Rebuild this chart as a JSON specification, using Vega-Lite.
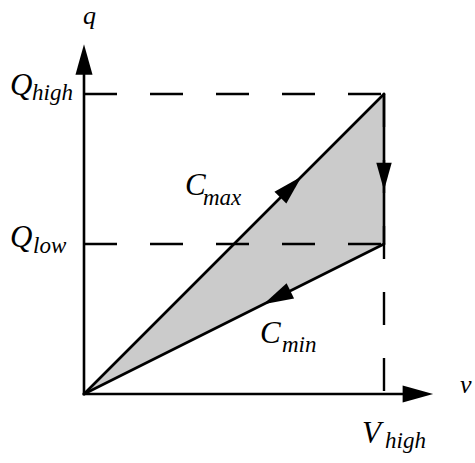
{
  "$schema": "https://vega.github.io/schema/vega-lite/v6.json",
  "width": 475,
  "height": 463,
  "autosize": {"type": "fit", "contains": "padding"},
  "padding": 0,
  "background": "white",
  "config": {"view": {"stroke": null}},
  "encoding": {
    "x": {"field": "v", "type": "quantitative", "axis": null,
          "scale": {"domain": [-0.28, 1.30333], "nice": false, "zero": false}},
    "y": {"field": "q", "type": "quantitative", "axis": null,
          "scale": {"domain": [-0.23, 1.31333], "nice": false, "zero": false}}
  },
  "layer": [
    {
      "description": "shaded cycle between C_max and C_min",
      "data": {"values": [
        {"v": 0, "q": 0, "q2": 0},
        {"v": 1, "q": 1, "q2": 0.5}
      ]},
      "mark": {"type": "area", "color": "#cbcbcb", "opacity": 1},
      "encoding": {"y2": {"field": "q2"}}
    },
    {
      "description": "dashed guides at Q_high, Q_low and V_high",
      "data": {"values": [
        {"v": 0, "q": 1, "v2": 1, "q2": 1},
        {"v": 0, "q": 0.5, "v2": 1, "q2": 0.5},
        {"v": 1, "q": 1, "v2": 1, "q2": 0}
      ]},
      "mark": {"type": "rule", "color": "black", "strokeWidth": 2.4, "strokeDash": [33, 33]},
      "encoding": {"x2": {"field": "v2"}, "y2": {"field": "q2"}}
    },
    {
      "description": "v and q axes",
      "data": {"values": [
        {"v": 0, "q": 0, "v2": 1.08, "q2": 0},
        {"v": 0, "q": 0, "v2": 0, "q2": 1.08}
      ]},
      "mark": {"type": "rule", "color": "black", "strokeWidth": 2.6, "strokeCap": "square"},
      "encoding": {"x2": {"field": "v2"}, "y2": {"field": "q2"}}
    },
    {
      "description": "cycle edges",
      "data": {"values": [
        {"v": 0, "q": 0, "v2": 1, "q2": 1},
        {"v": 1, "q": 1, "v2": 1, "q2": 0.5},
        {"v": 1, "q": 0.5, "v2": 0, "q2": 0}
      ]},
      "mark": {"type": "rule", "color": "black", "strokeWidth": 2.6, "strokeCap": "round"},
      "encoding": {"x2": {"field": "v2"}, "y2": {"field": "q2"}}
    },
    {
      "data": {"values": [{"v": 0, "q": 1.115}]},
      "mark": {"type": "point", "shape": "M0,-1L0.56,1L-0.56,1Z", "size": 930, "filled": true, "color": "black", "opacity": 1, "strokeWidth": 0, "angle": 0}
    },
    {
      "data": {"values": [{"v": 1.113, "q": 0}]},
      "mark": {"type": "point", "shape": "M0,-1L0.56,1L-0.56,1Z", "size": 930, "filled": true, "color": "black", "opacity": 1, "strokeWidth": 0, "angle": 90}
    },
    {
      "data": {"values": [{"v": 1, "q": 0.725}]},
      "mark": {"type": "point", "shape": "M0,-1L0.56,1L-0.56,1Z", "size": 760, "filled": true, "color": "black", "opacity": 1, "strokeWidth": 0, "angle": 180}
    },
    {
      "data": {"values": [{"v": 0.69, "q": 0.69}]},
      "mark": {"type": "point", "shape": "M0,-1L0.56,1L-0.56,1Z", "size": 900, "filled": true, "color": "black", "opacity": 1, "strokeWidth": 0, "angle": 45}
    },
    {
      "data": {"values": [{"v": 0.643, "q": 0.3215}]},
      "mark": {"type": "point", "shape": "M0,-1L0.56,1L-0.56,1Z", "size": 900, "filled": true, "color": "black", "opacity": 1, "strokeWidth": 0, "angle": 243.6}
    },
    {
      "description": "axis names",
      "data": {"values": [
        {"label": "v", "v": 1.2533, "q": 0.0033},
        {"label": "q", "v": -0.0033, "q": 1.2333}
      ]},
      "mark": {"type": "text", "font": "Liberation Serif", "fontStyle": "italic", "fontSize": 26, "align": "left", "baseline": "alphabetic", "color": "black"},
      "encoding": {"text": {"field": "label"}}
    },
    {
      "description": "main symbols",
      "data": {"values": [
        {"label": "Q", "v": -0.2467, "q": 0.9967},
        {"label": "Q", "v": -0.2467, "q": 0.49},
        {"label": "V", "v": 0.9267, "q": -0.1633},
        {"label": "C", "v": 0.3367, "q": 0.6633},
        {"label": "C", "v": 0.5867, "q": 0.17}
      ]},
      "mark": {"type": "text", "font": "Liberation Serif", "fontStyle": "italic", "fontSize": 31, "align": "left", "baseline": "alphabetic", "color": "black"},
      "encoding": {"text": {"field": "label"}}
    },
    {
      "description": "subscripts",
      "data": {"values": [
        {"label": "high", "v": -0.1733, "q": 0.98},
        {"label": "low", "v": -0.17, "q": 0.47},
        {"label": "high", "v": 1.0033, "q": -0.18},
        {"label": "max", "v": 0.3967, "q": 0.63},
        {"label": "min", "v": 0.66, "q": 0.14}
      ]},
      "mark": {"type": "text", "font": "Liberation Serif", "fontStyle": "italic", "fontSize": 23, "align": "left", "baseline": "alphabetic", "color": "black"},
      "encoding": {"text": {"field": "label"}}
    }
  ]
}
